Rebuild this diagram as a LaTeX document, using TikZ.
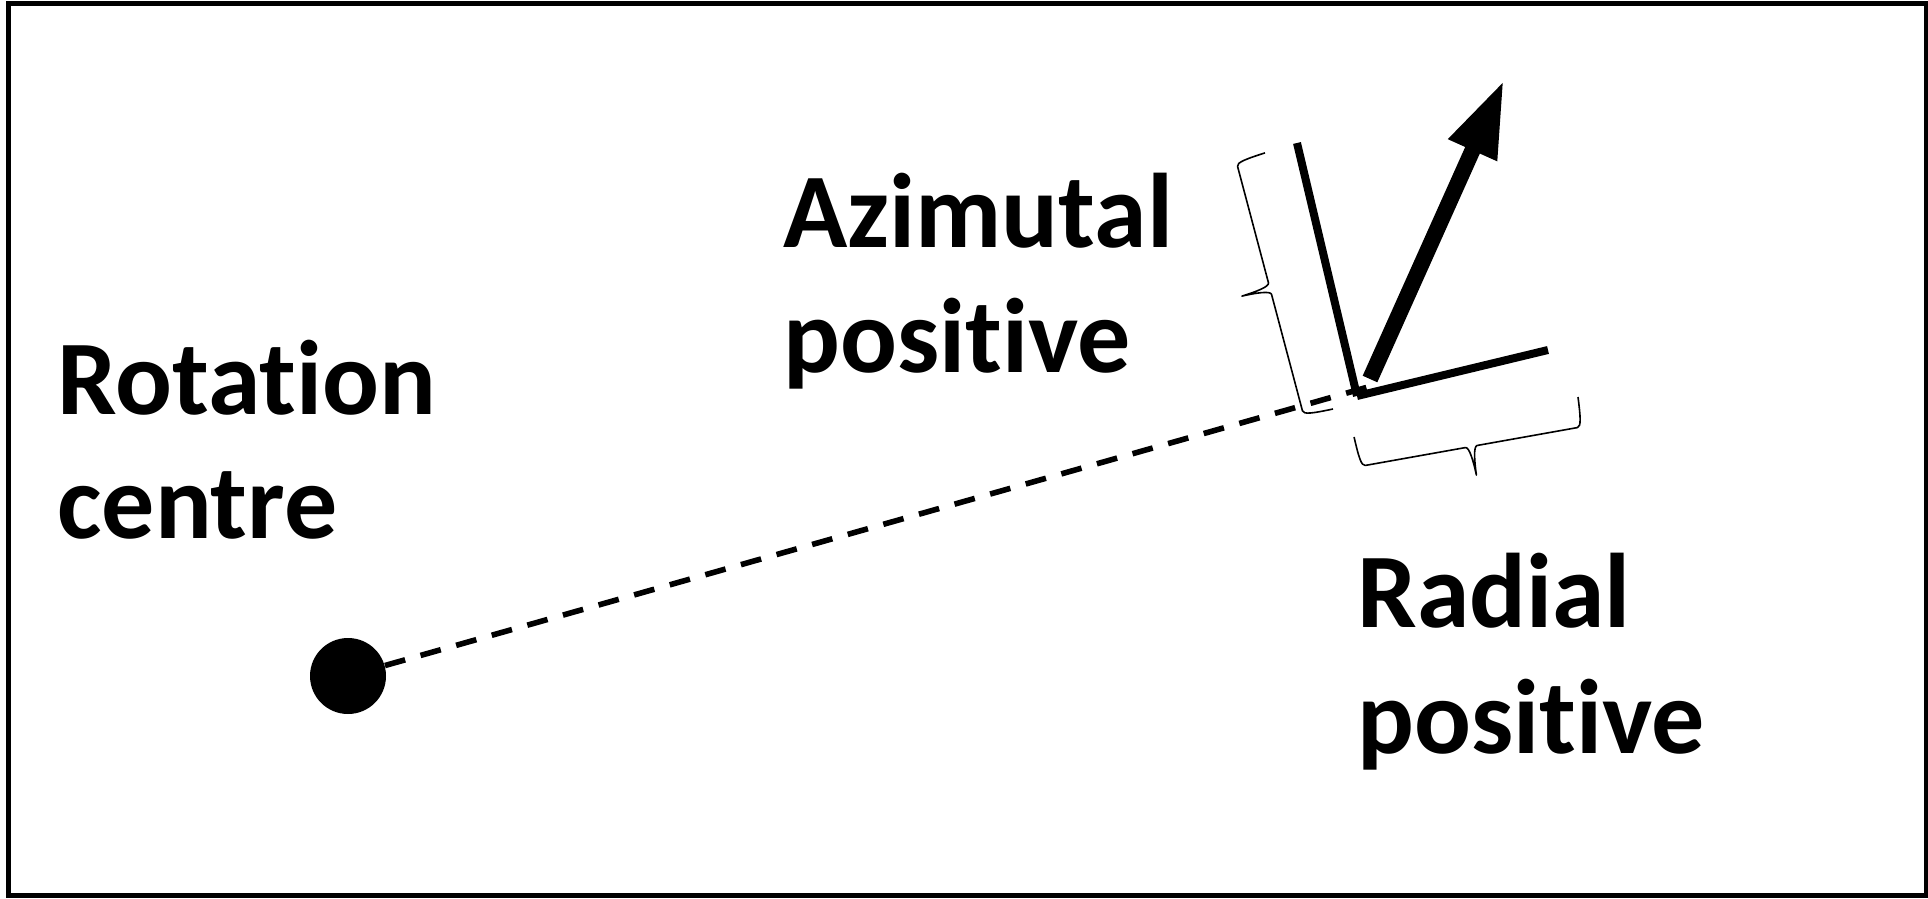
\documentclass[tikz,border=0pt]{standalone}
\usepackage{fontspec}
\setmainfont{Carlito}[Ligatures=NoCommon]
\usetikzlibrary{arrows.meta}
\tikzset{
  lbl/.style={anchor=base west, inner sep=0pt, font=\bfseries\fontsize{53}{64}\selectfont},
  frame/.style={line width=2.5pt},
  axisline/.style={line width=4pt},
  dashline/.style={line width=2.8pt, dash pattern=on 10.5pt off 8pt},
  vec/.style={line width=8pt, -{Triangle[length=38.5pt,width=24.5pt]}},
  bracestyle/.style={line width=0.8pt, line join=round},
  pics/wbrace/.style={code={
    \draw[bracestyle] (0,0) .. controls (1,20) and (2,30) .. (6,30)
      -- ({#1/2-6},30) .. controls ({#1/2-2},30) and ({#1/2-0.5},45) .. ({#1/2},59)
      .. controls ({#1/2+0.5},45) and ({#1/2+2},30) .. ({#1/2+6},30)
      -- ({#1-6},30) .. controls ({#1-2},30) and ({#1-1},20) .. (#1,0);
  }}
}
\begin{document}
\begin{tikzpicture}[x=0.5pt,y=0.5pt]
\useasboundingbox (0,0) rectangle (1928,-899);
\draw[frame] (8.5,-3.5) rectangle (1926,-895.5);

\node[circle, fill, minimum size=38pt, inner sep=0pt] (centre) at (348,-676) {};
\coordinate (O) at (1357,-396);
\coordinate (Rend) at (1548,-350);
\coordinate (Aend) at (1297,-143);
\coordinate (dashend) at (1368,-387);
\coordinate (vstart) at (1370,-379);
\coordinate (vtip) at (1504,-80);

\draw[dashline] (centre) -- (dashend);
\draw[axisline] (O) -- (Rend);
\draw[axisline] (O) -- (Aend);
\draw[vec] (vstart) -- (vtip);

\pic[rotate=104.87] at (1333,-409) {wbrace=265};
\pic[rotate=190.12] at (1578,-397) {wbrace=227.5};

\node[lbl] (rot1) at (57,-414) {Rotation};
\node[lbl] (rot2) at (57,-538) {centre};
\node[lbl] (az1) at (783,-247) {Azimutal};
\node[lbl] (az2) at (783,-372) {positive};
\node[lbl] (rad1) at (1357,-627) {Radial};
\node[lbl] (rad2) at (1357,-753) {positive};
\end{tikzpicture}
\end{document}
